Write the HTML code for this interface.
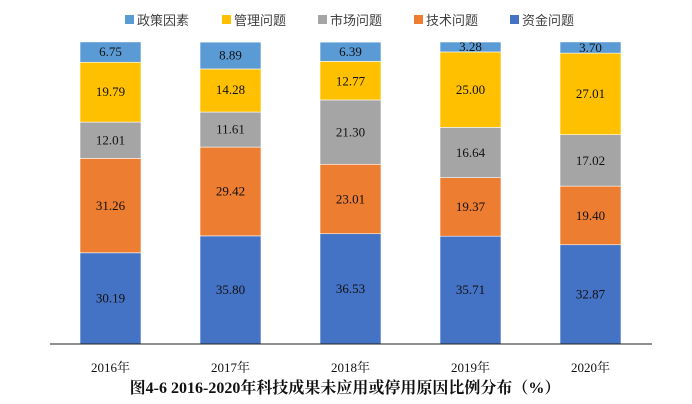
<!DOCTYPE html>
<html><head><meta charset="utf-8"><style>body{margin:0;background:#fff}svg{display:block}</style></head><body>
<svg width="692" height="404" xmlns="http://www.w3.org/2000/svg" font-family="Liberation Serif, Noto Serif CJK SC, serif">
<g font-family="Liberation Sans, Noto Sans CJK SC, sans-serif" font-size="13" fill="#404040">
<rect x="125" y="15" width="9" height="9" fill="#5B9BD5"/><text x="137" y="25">政策因素</text>
<rect x="222" y="15" width="9" height="9" fill="#FFC000"/><text x="234" y="25">管理问题</text>
<rect x="318" y="15" width="9" height="9" fill="#A5A5A5"/><text x="330" y="25">市场问题</text>
<rect x="414" y="15" width="9" height="9" fill="#ED7D31"/><text x="426" y="25">技术问题</text>
<rect x="510" y="15" width="9" height="9" fill="#4472C4"/><text x="522" y="25">资金问题</text>
</g>
<g transform="translate(0,344) scale(1,0.9837) translate(0,-349)">
<g stroke="#fff" stroke-width="0.6">
<rect x="80" y="256.3" width="61" height="92.7" fill="#4472C4"/>
<rect x="80" y="160.3" width="61" height="96" fill="#ED7D31"/>
<rect x="80" y="123.4" width="61" height="36.9" fill="#A5A5A5"/>
<rect x="80" y="62.6" width="61" height="60.8" fill="#FFC000"/>
<rect x="80" y="41.9" width="61" height="20.7" fill="#5B9BD5"/>
<rect x="200" y="239.1" width="61" height="109.9" fill="#4472C4"/>
<rect x="200" y="148.8" width="61" height="90.3" fill="#ED7D31"/>
<rect x="200" y="113.2" width="61" height="35.6" fill="#A5A5A5"/>
<rect x="200" y="69.4" width="61" height="43.8" fill="#FFC000"/>
<rect x="200" y="42.1" width="61" height="27.3" fill="#5B9BD5"/>
<rect x="320" y="236.9" width="61" height="112.1" fill="#4472C4"/>
<rect x="320" y="166.3" width="61" height="70.6" fill="#ED7D31"/>
<rect x="320" y="100.9" width="61" height="65.4" fill="#A5A5A5"/>
<rect x="320" y="61.7" width="61" height="39.2" fill="#FFC000"/>
<rect x="320" y="42.1" width="61" height="19.6" fill="#5B9BD5"/>
<rect x="440" y="239.4" width="61" height="109.6" fill="#4472C4"/>
<rect x="440" y="179.9" width="61" height="59.5" fill="#ED7D31"/>
<rect x="440" y="128.8" width="61" height="51.1" fill="#A5A5A5"/>
<rect x="440" y="52.1" width="61" height="76.7" fill="#FFC000"/>
<rect x="440" y="42" width="61" height="10.1" fill="#5B9BD5"/>
<rect x="560" y="248.1" width="61" height="100.9" fill="#4472C4"/>
<rect x="560" y="188.5" width="61" height="59.6" fill="#ED7D31"/>
<rect x="560" y="136.2" width="61" height="52.3" fill="#A5A5A5"/>
<rect x="560" y="53.3" width="61" height="82.9" fill="#FFC000"/>
<rect x="560" y="41.9" width="61" height="11.4" fill="#5B9BD5"/>
</g>
<g font-size="13" fill="#111" text-anchor="middle">
<text x="110.5" y="307">30.19</text><text x="110.5" y="213">31.26</text><text x="110.5" y="146">12.01</text><text x="110.5" y="97">19.79</text><text x="110.5" y="56">6.75</text>
<text x="230.5" y="298">35.80</text><text x="230.5" y="198">29.42</text><text x="230.5" y="135">11.61</text><text x="230.5" y="95">14.28</text><text x="230.5" y="60">8.89</text>
<text x="350.5" y="297">36.53</text><text x="350.5" y="206">23.01</text><text x="350.5" y="138">21.30</text><text x="350.5" y="86">12.77</text><text x="350.5" y="56">6.39</text>
<text x="470.5" y="298">35.71</text><text x="470.5" y="214">19.37</text><text x="470.5" y="159">16.64</text><text x="470.5" y="95">25.00</text><text x="470.5" y="51">3.28</text>
<text x="590.5" y="303">32.87</text><text x="590.5" y="223">19.40</text><text x="590.5" y="167">17.02</text><text x="590.5" y="99">27.01</text><text x="590.5" y="52">3.70</text>
</g>
</g>
<line x1="50" y1="344" x2="652" y2="344" stroke="#222" stroke-width="1"/>
<g font-size="13" fill="#111" text-anchor="middle">
<text x="110.5" y="372">2016年</text><text x="230.5" y="372">2017年</text><text x="350.5" y="372">2018年</text><text x="470.5" y="372">2019年</text><text x="590.5" y="372">2020年</text>
</g>
<text x="345" y="393" font-size="16" font-weight="bold" text-anchor="middle" fill="#111">图4-6  2016-2020年科技成果未应用或停用原因比例分布（%）</text>
</svg>
</body></html>
